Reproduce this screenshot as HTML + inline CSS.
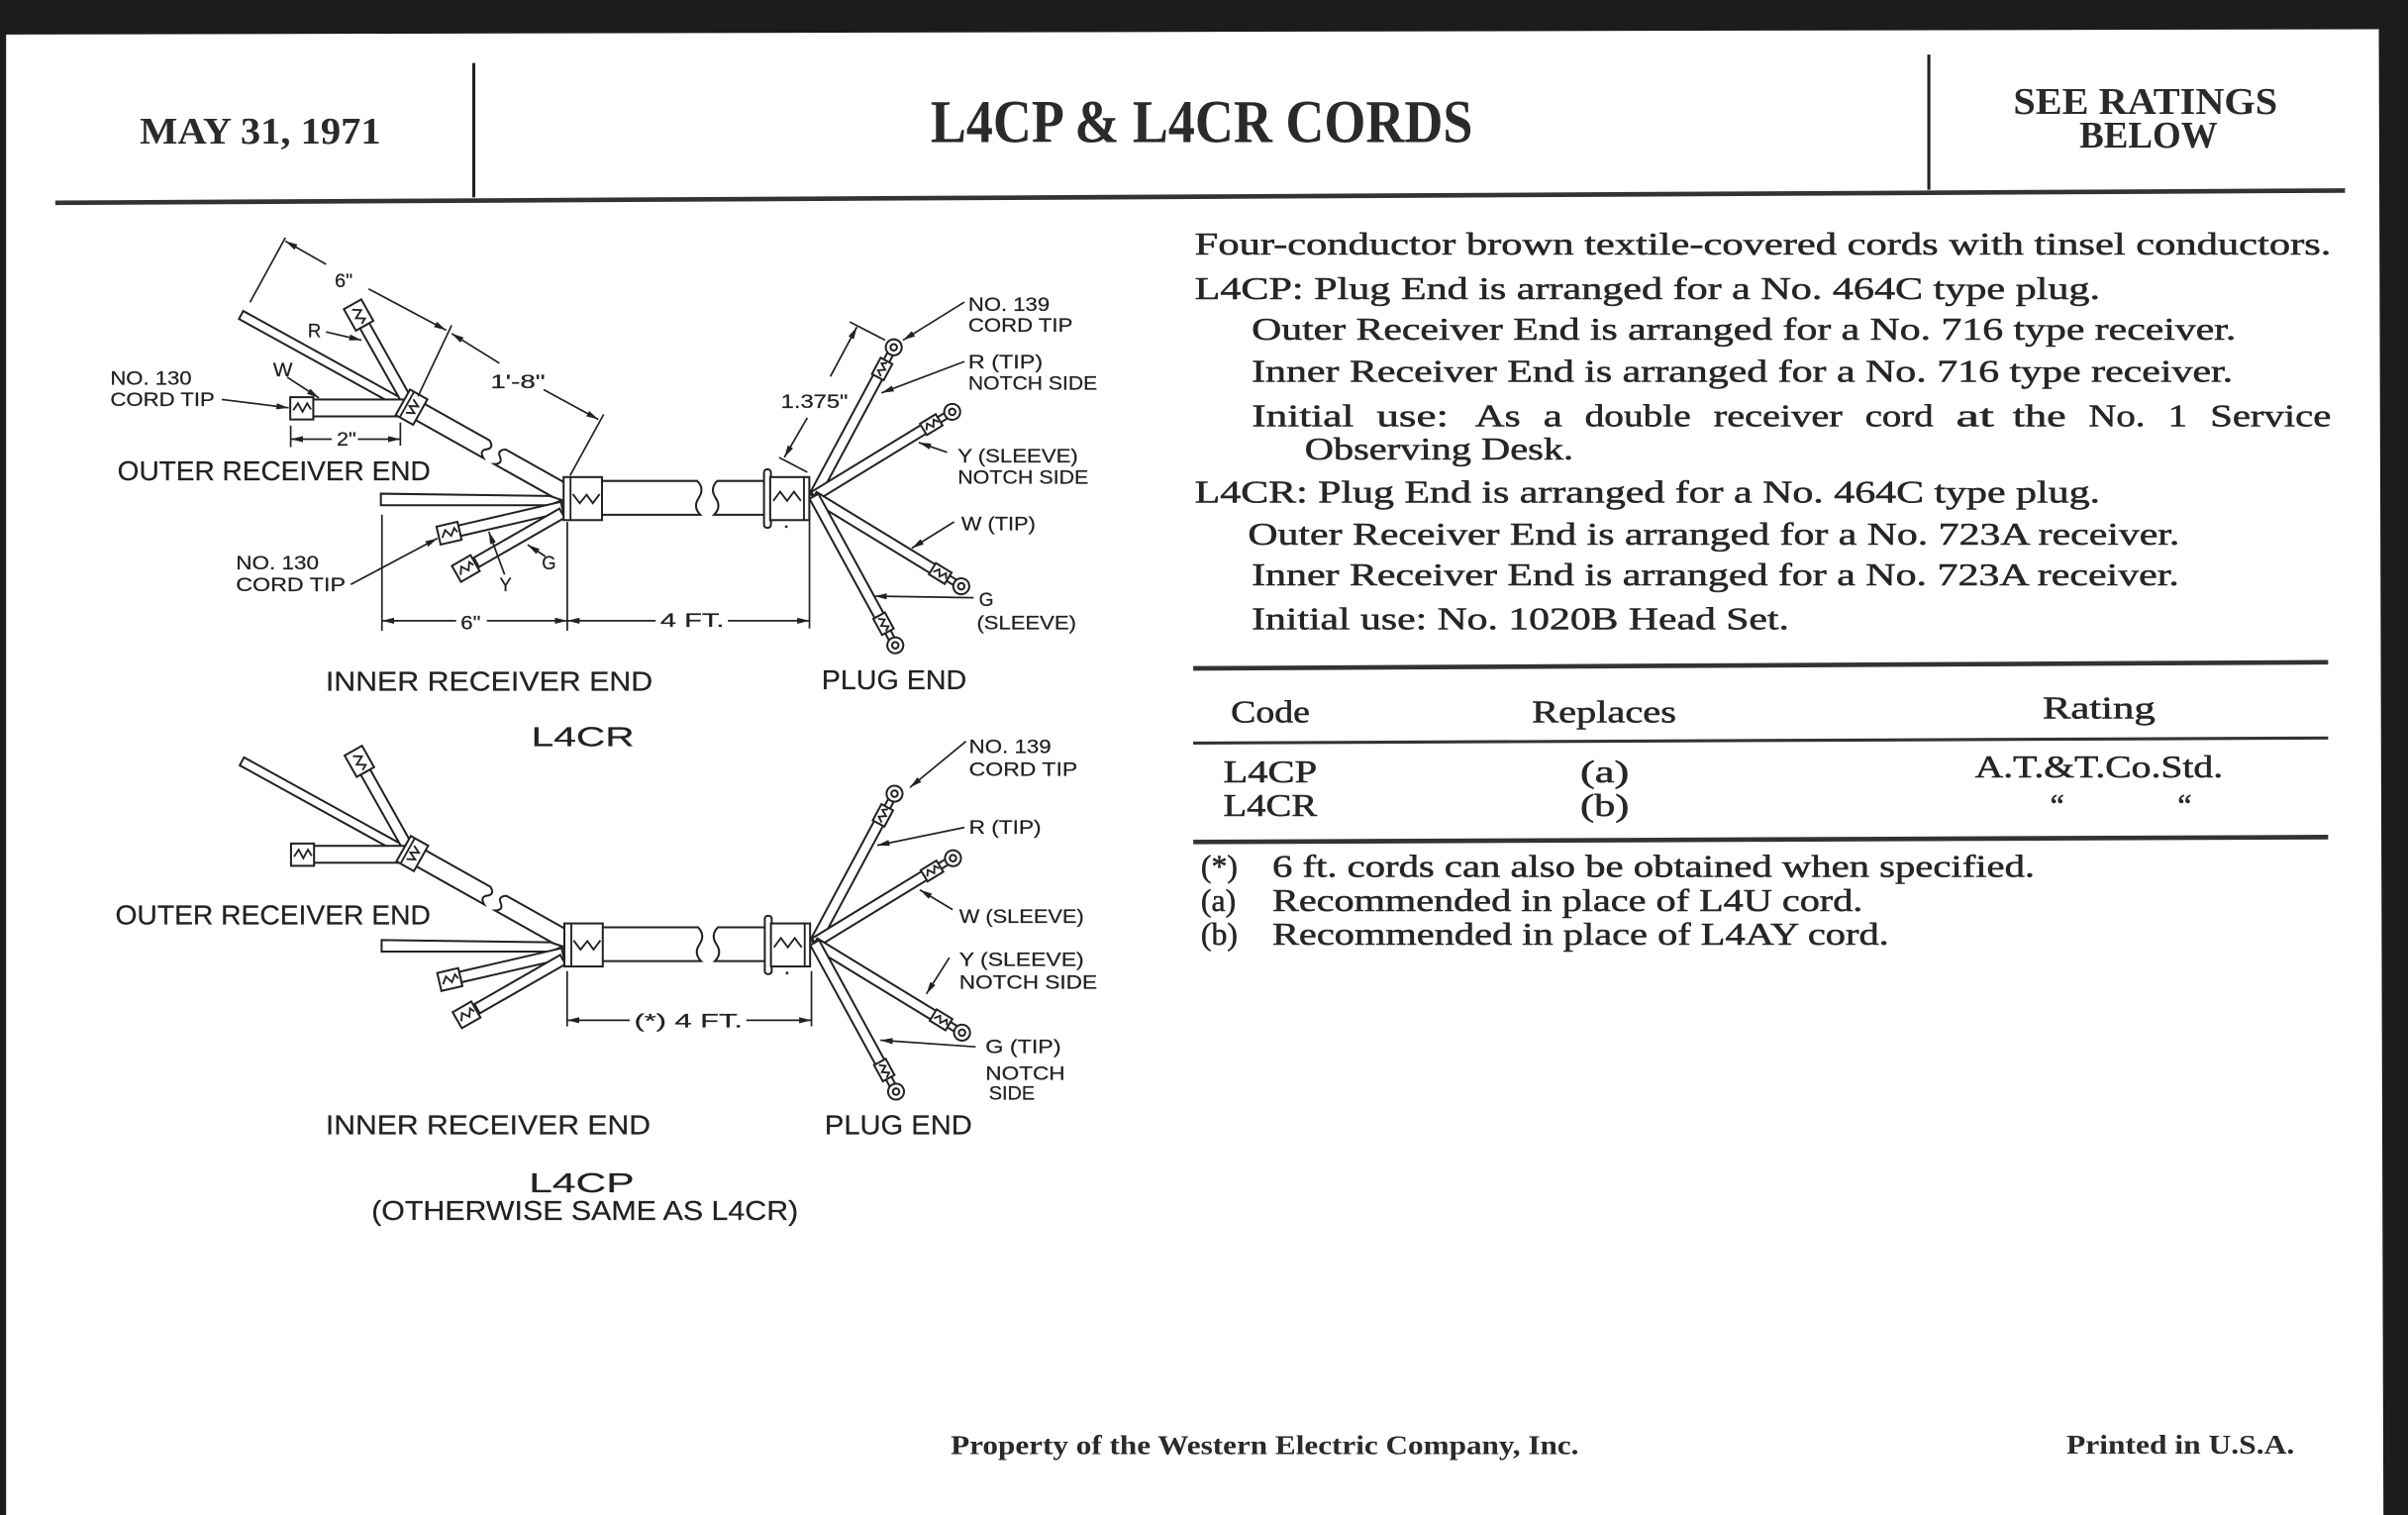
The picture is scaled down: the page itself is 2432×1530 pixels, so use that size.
<!DOCTYPE html>
<html><head><meta charset="utf-8">
<style>
html,body{margin:0;padding:0;background:#1c1c1c;width:2432px;height:1530px;overflow:hidden}
svg{display:block}
.w{fill:#fff;stroke:#222;stroke-width:1.3}
.s{fill:none;stroke:#222;stroke-width:1.2}
.d{fill:none;stroke:#222;stroke-width:1.1}
.t{font-family:"Liberation Sans",sans-serif;fill:#222;font-size:12.6px;stroke:#222;stroke-width:0.15}
.b{font-family:"Liberation Sans",sans-serif;fill:#222;font-size:18px;stroke:#222;stroke-width:0.15}
.r{font-family:"Liberation Serif",serif;fill:#262626;font-size:20.5px;stroke:#262626;stroke-width:0.35}
.h{font-family:"Liberation Serif",serif;fill:#2a2a2a;font-weight:bold}
</style></head>
<body>
<svg xmlns="http://www.w3.org/2000/svg" width="2432" height="1530" viewBox="0 0 1568 986" preserveAspectRatio="none">
<defs>
<marker id="ah" viewBox="0 0 10 5" refX="10" refY="2.5" markerWidth="8" markerHeight="4" markerUnits="userSpaceOnUse" orient="auto"><path d="M0,0L10,2.5L0,5z" fill="#222"/></marker>
</defs>
<rect width="1568" height="986" fill="#1c1c1c"/>
<polygon points="4,22.5 1549,19 1552,986 4,986" fill="#fff"/>

<!-- HEADER -->
<text class="h" x="91" y="93.5" font-size="24.5" textLength="157" lengthAdjust="spacingAndGlyphs">MAY 31, 1971</text>
<line x1="308.5" y1="41" x2="308.5" y2="128.5" stroke="#222" stroke-width="2"/>
<text class="h" x="606" y="92.4" font-size="39.5" textLength="353" lengthAdjust="spacingAndGlyphs">L4CP &amp; L4CR CORDS</text>
<line x1="1256" y1="35.5" x2="1256" y2="123.5" stroke="#222" stroke-width="2"/>
<text class="h" x="1311" y="74" font-size="24.5" textLength="172" lengthAdjust="spacingAndGlyphs">SEE RATINGS</text>
<text class="h" x="1354" y="96" font-size="24.5" textLength="90" lengthAdjust="spacingAndGlyphs">BELOW</text>
<line x1="36" y1="132" x2="1527" y2="124" stroke="#333" stroke-width="3"/>

<!-- CORD DRAWING (upper, reused for lower) -->
<g id="cord">
  <g transform="translate(268,265) rotate(29.3)">
    <path class="w" d="M4,-6 H55 Q60,-3 56,0 Q52,3 57,6 H4 Z"/>
    <path class="w" d="M118,-6 H67 Q62,-3 66,0 Q70,3 65,6 H118 Z"/>
  </g>
  <polygon class="w" points="158.4,202.4 265.4,261.4 262.6,266.6 155.6,207.6"/>
  <polygon class="w" points="234.4,213.7 240.5,210.3 268,259.3 262,262.7"/>
  <rect class="w" x="203" y="260" width="62" height="11"/>
  <rect class="w" x="189" y="258.5" width="15" height="14.5"/>
  <polyline class="s" points="191,267 194,262.5 197,268 200,262.5 202.5,266.5"/>
  <g transform="translate(233.5,205) rotate(60.6)">
    <rect class="w" x="-8" y="-6.5" width="16" height="13"/>
    <polyline class="s" points="-5,2 -2,-3 1,2.5 4,-2.5 6,1"/>
  </g>
  <g transform="translate(268,265) rotate(29.3)">
    <rect class="w" x="-6.5" y="-9.5" width="13" height="19"/>
    <line class="s" x1="-3.5" y1="-9.5" x2="-3.5" y2="9.5"/>
    <polyline class="s" points="-1.5,-5 3.5,-2.5 -1.5,0 3.5,2.5 -1.5,5"/>
  </g>
  <polygon class="w" points="248,321.3 358,322.8 366,325.5 358,328.8 248,328.8"/>
  <polygon class="w" points="298.4,342 365.2,326.6 366.8,333.4 300,348.8"/>
  <polygon class="w" points="308.5,363 364.3,331 367.7,337 311.9,369"/>
  <g transform="translate(292.4,347) rotate(-13)">
    <rect class="w" x="-7" y="-6" width="14" height="12"/>
    <polyline class="s" points="-5,2 -2,-2.5 1,2 4,-2.5 5.5,0.5"/>
  </g>
  <g transform="translate(303.3,370) rotate(-29.9)">
    <rect class="w" x="-7" y="-6" width="14" height="12"/>
    <polyline class="s" points="-5,2 -2,-2.5 1,2 4,-2.5 5.5,0.5"/>
  </g>
  <path class="w" d="M390,313 H454 Q459,318 455,324 Q451,330 456,335 H390 Z"/>
  <path class="w" d="M503,313 H467 Q462,318 466,324 Q470,330 465,335 H503 Z"/>
  <!-- fan wires -->
  <g transform="translate(530,323) rotate(-61.8)">
    <rect class="w" x="0" y="-3.3" width="90" height="6.6"/>
    <rect class="w" x="98" y="-2" width="8" height="4"/>
    <circle class="w" cx="110" cy="0" r="5.2"/><circle class="w" cx="110" cy="0" r="2.1"/>
    <rect class="w" x="88" y="-4.3" width="12" height="8.6"/>
    <polyline class="s" points="89.5,1.5 92,-2 94.5,2 97,-2 99,1"/>
  </g>
  <g transform="translate(530,323) rotate(-31.4)">
    <rect class="w" x="0" y="-3.3" width="85.5" height="6.6"/>
    <rect class="w" x="93.5" y="-2" width="8" height="4"/>
    <circle class="w" cx="105.5" cy="0" r="5.2"/><circle class="w" cx="105.5" cy="0" r="2.1"/>
    <rect class="w" x="83.5" y="-4.3" width="12" height="8.6"/>
    <polyline class="s" points="85,1.5 87.5,-2 90,2 92.5,-2 94.5,1"/>
  </g>
  <g transform="translate(530,323) rotate(31.4)">
    <rect class="w" x="0" y="-3.3" width="92.4" height="6.6"/>
    <rect class="w" x="100.4" y="-2" width="8" height="4"/>
    <circle class="w" cx="112.4" cy="0" r="5.2"/><circle class="w" cx="112.4" cy="0" r="2.1"/>
    <rect class="w" x="90.4" y="-4.3" width="12" height="8.6"/>
    <polyline class="s" points="92,1.5 94.5,-2 97,2 99.5,-2 101.5,1"/>
  </g>
  <g transform="translate(530,323) rotate(61.35)">
    <rect class="w" x="0" y="-3.3" width="90.5" height="6.6"/>
    <rect class="w" x="98.5" y="-2" width="8" height="4"/>
    <circle class="w" cx="110.5" cy="0" r="5.2"/><circle class="w" cx="110.5" cy="0" r="2.1"/>
    <rect class="w" x="88.5" y="-4.3" width="12" height="8.6"/>
    <polyline class="s" points="90,1.5 92.5,-2 95,2 97.5,-2 99.5,1"/>
  </g>
  <!-- inner sleeve -->
  <rect class="w" x="367" y="310.5" width="25" height="28"/>
  <line class="s" x1="371.5" y1="310.5" x2="371.5" y2="338.5"/>
  <polyline class="s" points="373,321.5 377.5,327.5 382,322 386,327.5 390.5,321.5"/>
  <!-- plug sleeve -->
  <rect class="w" x="497.5" y="305.5" width="4.5" height="38" rx="2"/>
  <rect class="w" x="501.5" y="310.5" width="25.5" height="28"/>
  <line class="s" x1="523.5" y1="310.5" x2="523.5" y2="338.5"/>
  <polyline class="s" points="503.5,326 508,320 512.5,326 517,320 521.5,326"/>
  <circle cx="512" cy="342.8" r="0.9" fill="#222"/>
</g>
<use href="#cord" transform="translate(0.5,290.5)"/>

<!-- UPPER DIMENSIONS & LEADERS -->
<g class="d">
  <line x1="162.8" y1="196.7" x2="185.8" y2="154.7"/>
  <line x1="212.3" y1="172" x2="185.8" y2="156.9" marker-end="url(#ah)"/>
  <line x1="240" y1="188" x2="290.6" y2="214.9" marker-end="url(#ah)"/>
  <line x1="272.2" y1="257.9" x2="294.1" y2="211.7"/>
  <line x1="325.2" y1="236.4" x2="294.1" y2="217.1" marker-end="url(#ah)"/>
  <line x1="354" y1="253.6" x2="389.7" y2="273" marker-end="url(#ah)"/>
  <line x1="393.1" y1="269.7" x2="371.2" y2="309.5"/>
  <line x1="144.4" y1="260" x2="188" y2="265.4" marker-end="url(#ah)"/>
  <line x1="187" y1="245.5" x2="207.7" y2="259" marker-end="url(#ah)"/>
  <line x1="212.3" y1="216" x2="235.4" y2="221.4" marker-end="url(#ah)"/>
  <line x1="189.3" y1="277" x2="189.3" y2="291"/>
  <line x1="260.7" y1="275" x2="260.7" y2="290"/>
  <line x1="216" y1="285.8" x2="189.3" y2="285.8" marker-end="url(#ah)"/>
  <line x1="233" y1="285.8" x2="260.7" y2="285.8" marker-end="url(#ah)"/>
  <line x1="228.4" y1="380.4" x2="284.9" y2="350.3" marker-end="url(#ah)"/>
  <line x1="328.6" y1="374" x2="318.3" y2="346" marker-end="url(#ah)"/>
  <line x1="355.1" y1="362.1" x2="343.6" y2="354.6" marker-end="url(#ah)"/>
  <line x1="248.7" y1="335" x2="248.7" y2="410.5"/>
  <line x1="369.4" y1="339.6" x2="369.4" y2="410.5"/>
  <line x1="297" y1="404" x2="248.7" y2="404" marker-end="url(#ah)"/>
  <line x1="317" y1="404" x2="369.4" y2="404" marker-end="url(#ah)"/>
  <line x1="427" y1="404" x2="369.4" y2="404" marker-end="url(#ah)"/>
  <line x1="474" y1="404" x2="527.1" y2="404" marker-end="url(#ah)"/>
  <line x1="527.1" y1="333" x2="527.1" y2="409"/>
  <line x1="553.4" y1="209.5" x2="576.4" y2="221.4"/>
  <line x1="540.7" y1="245" x2="558" y2="212.8" marker-end="url(#ah)"/>
  <line x1="525.7" y1="271.9" x2="510.7" y2="297.7" marker-end="url(#ah)"/>
  <line x1="507.3" y1="297.7" x2="525.7" y2="307.3"/>
  <line x1="628" y1="196.6" x2="588" y2="221.4" marker-end="url(#ah)"/>
  <line x1="628" y1="235.3" x2="574" y2="255.7" marker-end="url(#ah)"/>
  <line x1="616.7" y1="294.4" x2="598.3" y2="288" marker-end="url(#ah)"/>
  <line x1="621.3" y1="339.6" x2="593.7" y2="356.8" marker-end="url(#ah)"/>
  <line x1="634" y1="389" x2="569.5" y2="388" marker-end="url(#ah)"/>
</g>

<!-- UPPER LABELS -->
<text class="t" x="218" y="187" textLength="11.6" lengthAdjust="spacingAndGlyphs">6"</text>
<text class="t" x="200.4" y="219.6" textLength="8.6" lengthAdjust="spacingAndGlyphs">R</text>
<text class="t" x="177.8" y="245" textLength="12.7" lengthAdjust="spacingAndGlyphs">W</text>
<text class="t" x="71.8" y="250.4" textLength="53" lengthAdjust="spacingAndGlyphs">NO. 130</text>
<text class="t" x="71.8" y="264.3" textLength="68" lengthAdjust="spacingAndGlyphs">CORD TIP</text>
<text class="t" x="219.2" y="290" textLength="12.7" lengthAdjust="spacingAndGlyphs">2"</text>
<text class="t" x="319.4" y="252.5" textLength="35.6" lengthAdjust="spacingAndGlyphs">1'-8"</text>
<text class="b" x="76.5" y="312.7" textLength="203.8" lengthAdjust="spacingAndGlyphs">OUTER RECEIVER END</text>
<text class="t" x="153.6" y="370.7" textLength="54" lengthAdjust="spacingAndGlyphs">NO. 130</text>
<text class="t" x="153.6" y="384.7" textLength="71.4" lengthAdjust="spacingAndGlyphs">CORD TIP</text>
<text class="t" x="325.2" y="384.7" textLength="8" lengthAdjust="spacingAndGlyphs">Y</text>
<text class="t" x="352.8" y="370.7" textLength="9.2" lengthAdjust="spacingAndGlyphs">G</text>
<text class="t" x="300" y="409.4" textLength="13" lengthAdjust="spacingAndGlyphs">6"</text>
<text class="t" x="430" y="408" textLength="41.6" lengthAdjust="spacingAndGlyphs">4 FT.</text>
<text class="b" x="212" y="449.5" textLength="213" lengthAdjust="spacingAndGlyphs">INNER RECEIVER END</text>
<text class="b" x="535" y="448.5" textLength="94.4" lengthAdjust="spacingAndGlyphs">PLUG END</text>
<text class="b" x="346" y="485.7" font-size="22.5" textLength="67" lengthAdjust="spacingAndGlyphs">L4CR</text>
<text class="t" x="630.5" y="202.5" textLength="53" lengthAdjust="spacingAndGlyphs">NO. 139</text>
<text class="t" x="630.5" y="216" textLength="68" lengthAdjust="spacingAndGlyphs">CORD TIP</text>
<text class="t" x="630.5" y="239.6" textLength="48.5" lengthAdjust="spacingAndGlyphs">R (TIP)</text>
<text class="t" x="630.5" y="253.6" textLength="84" lengthAdjust="spacingAndGlyphs">NOTCH SIDE</text>
<text class="t" x="508.5" y="265.4" textLength="43.7" lengthAdjust="spacingAndGlyphs">1.375"</text>
<text class="t" x="623.6" y="300.9" textLength="78.4" lengthAdjust="spacingAndGlyphs">Y (SLEEVE)</text>
<text class="t" x="623.6" y="314.8" textLength="85.2" lengthAdjust="spacingAndGlyphs">NOTCH SIDE</text>
<text class="t" x="626" y="345" textLength="48.3" lengthAdjust="spacingAndGlyphs">W (TIP)</text>
<text class="t" x="637.4" y="394.4" textLength="9.6" lengthAdjust="spacingAndGlyphs">G</text>
<text class="t" x="636" y="409.4" textLength="64.8" lengthAdjust="spacingAndGlyphs">(SLEEVE)</text>

<!-- LOWER DIMENSIONS & LEADERS -->
<g class="d">
  <line x1="629" y1="482.5" x2="592.5" y2="512.5" marker-end="url(#ah)"/>
  <line x1="628" y1="538.5" x2="571.2" y2="550.2" marker-end="url(#ah)"/>
  <line x1="620.3" y1="592" x2="599" y2="579.2" marker-end="url(#ah)"/>
  <line x1="618.2" y1="623.2" x2="603.2" y2="646.9" marker-end="url(#ah)"/>
  <line x1="635.3" y1="681.3" x2="573.3" y2="677" marker-end="url(#ah)"/>
  <line x1="369.3" y1="632" x2="369.3" y2="668"/>
  <line x1="528.4" y1="632" x2="528.4" y2="668"/>
  <line x1="410" y1="664" x2="369.3" y2="664" marker-end="url(#ah)"/>
  <line x1="486" y1="664" x2="528.4" y2="664" marker-end="url(#ah)"/>
</g>

<!-- LOWER LABELS -->
<text class="b" x="75.1" y="601.7" textLength="205.3" lengthAdjust="spacingAndGlyphs">OUTER RECEIVER END</text>
<text class="t" x="413" y="668.5" textLength="70.5" lengthAdjust="spacingAndGlyphs">(*) 4 FT.</text>
<text class="t" x="631" y="490" textLength="53.5" lengthAdjust="spacingAndGlyphs">NO. 139</text>
<text class="t" x="631" y="505" textLength="70.6" lengthAdjust="spacingAndGlyphs">CORD TIP</text>
<text class="t" x="631" y="542.6" textLength="47" lengthAdjust="spacingAndGlyphs">R (TIP)</text>
<text class="t" x="624.6" y="600.7" textLength="81.2" lengthAdjust="spacingAndGlyphs">W (SLEEVE)</text>
<text class="t" x="624.6" y="628.6" textLength="81.2" lengthAdjust="spacingAndGlyphs">Y (SLEEVE)</text>
<text class="t" x="624.6" y="643.6" textLength="89.8" lengthAdjust="spacingAndGlyphs">NOTCH SIDE</text>
<text class="t" x="641.7" y="685.5" textLength="49.2" lengthAdjust="spacingAndGlyphs">G (TIP)</text>
<text class="t" x="641.7" y="702.7" textLength="51.8" lengthAdjust="spacingAndGlyphs">NOTCH</text>
<text class="t" x="643.9" y="715.6" textLength="30" lengthAdjust="spacingAndGlyphs">SIDE</text>
<text class="b" x="212" y="738.2" textLength="211.6" lengthAdjust="spacingAndGlyphs">INNER RECEIVER END</text>
<text class="b" x="537" y="738.2" textLength="96" lengthAdjust="spacingAndGlyphs">PLUG END</text>
<text class="b" x="344.5" y="775.8" font-size="22.5" textLength="68.5" lengthAdjust="spacingAndGlyphs">L4CP</text>
<text class="b" x="241.9" y="794" font-size="15" textLength="277.9" lengthAdjust="spacingAndGlyphs">(OTHERWISE SAME AS L4CR)</text>

<!-- RIGHT TEXT BLOCK -->
<text class="r" x="778" y="165.5" textLength="740" lengthAdjust="spacingAndGlyphs">Four-conductor brown textile-covered cords with tinsel conductors.</text>
<text class="r" x="778" y="194.5" textLength="589.5" lengthAdjust="spacingAndGlyphs">L4CP: Plug End is arranged for a No. 464C type plug.</text>
<text class="r" x="815" y="221" textLength="641" lengthAdjust="spacingAndGlyphs">Outer Receiver End is arranged for a No. 716 type receiver.</text>
<text class="r" x="815" y="248.5" textLength="639" lengthAdjust="spacingAndGlyphs">Inner Receiver End is arranged for a No. 716 type receiver.</text>
<text class="r" y="277.5">
  <tspan x="815.1" textLength="66.5" lengthAdjust="spacingAndGlyphs">Initial</tspan>
  <tspan x="896.4" textLength="46.9" lengthAdjust="spacingAndGlyphs">use:</tspan>
  <tspan x="960.5" textLength="29.6" lengthAdjust="spacingAndGlyphs">As</tspan>
  <tspan x="1005" textLength="12.3" lengthAdjust="spacingAndGlyphs">a</tspan>
  <tspan x="1032" textLength="69" lengthAdjust="spacingAndGlyphs">double</tspan>
  <tspan x="1115.9" textLength="83.8" lengthAdjust="spacingAndGlyphs">receiver</tspan>
  <tspan x="1214.5" textLength="44.4" lengthAdjust="spacingAndGlyphs">cord</tspan>
  <tspan x="1273.7" textLength="24.7" lengthAdjust="spacingAndGlyphs">at</tspan>
  <tspan x="1310.7" textLength="34.6" lengthAdjust="spacingAndGlyphs">the</tspan>
  <tspan x="1360" textLength="36.8" lengthAdjust="spacingAndGlyphs">No.</tspan>
  <tspan x="1411.8" textLength="12.4" lengthAdjust="spacingAndGlyphs">1</tspan>
  <tspan x="1439.2" textLength="78.7" lengthAdjust="spacingAndGlyphs">Service</tspan>
</text>
<text class="r" x="849.6" y="299" textLength="175" lengthAdjust="spacingAndGlyphs">Observing Desk.</text>
<text class="r" x="778" y="327" textLength="589.5" lengthAdjust="spacingAndGlyphs">L4CR: Plug End is arranged for a No. 464C type plug.</text>
<text class="r" x="812.6" y="354.6" textLength="606.7" lengthAdjust="spacingAndGlyphs">Outer Receiver End is arranged for a No. 723A receiver.</text>
<text class="r" x="815" y="381" textLength="604" lengthAdjust="spacingAndGlyphs">Inner Receiver End is arranged for a No. 723A receiver.</text>
<text class="r" x="815" y="409.5" textLength="350" lengthAdjust="spacingAndGlyphs">Initial use: No. 1020B Head Set.</text>

<!-- TABLE -->
<line x1="777" y1="435" x2="1516" y2="431" stroke="#333" stroke-width="3"/>
<text class="r" x="801.5" y="470" textLength="51.4" lengthAdjust="spacingAndGlyphs">Code</text>
<text class="r" x="997.5" y="470" textLength="94" lengthAdjust="spacingAndGlyphs">Replaces</text>
<text class="r" x="1330" y="467.5" textLength="73.4" lengthAdjust="spacingAndGlyphs">Rating</text>
<line x1="777" y1="483.6" x2="1516" y2="480.3" stroke="#333" stroke-width="2"/>
<text class="r" x="796.6" y="509" textLength="61" lengthAdjust="spacingAndGlyphs">L4CP</text>
<text class="r" x="1029" y="509" textLength="31.8" lengthAdjust="spacingAndGlyphs">(a)</text>
<text class="r" x="1286" y="506" textLength="161.5" lengthAdjust="spacingAndGlyphs">A.T.&amp;T.Co.Std.</text>
<text class="r" x="796.6" y="531" textLength="61" lengthAdjust="spacingAndGlyphs">L4CR</text>
<text class="r" x="1029" y="531" textLength="31.8" lengthAdjust="spacingAndGlyphs">(b)</text>
<text class="r" x="1335" y="531">“</text>
<text class="r" x="1418" y="531">“</text>
<line x1="777" y1="548" x2="1516" y2="544.8" stroke="#333" stroke-width="3"/>

<!-- FOOTNOTES -->
<text class="r" x="782" y="570.6">(*)</text>
<text class="r" x="828.5" y="570.6" textLength="496.5" lengthAdjust="spacingAndGlyphs">6 ft. cords can also be obtained when specified.</text>
<text class="r" x="782" y="593">(a)</text>
<text class="r" x="828.5" y="593" textLength="384.5" lengthAdjust="spacingAndGlyphs">Recommended in place of L4U cord.</text>
<text class="r" x="782" y="614.7">(b)</text>
<text class="r" x="828.5" y="614.7" textLength="401.5" lengthAdjust="spacingAndGlyphs">Recommended in place of L4AY cord.</text>

<!-- FOOTER -->
<text class="h" x="619" y="946.5" font-size="17.5" textLength="409" lengthAdjust="spacingAndGlyphs">Property of the Western Electric Company, Inc.</text>
<text class="h" x="1345.6" y="946" font-size="17.5" textLength="148.4" lengthAdjust="spacingAndGlyphs">Printed in U.S.A.</text>
</svg>
</body></html>
